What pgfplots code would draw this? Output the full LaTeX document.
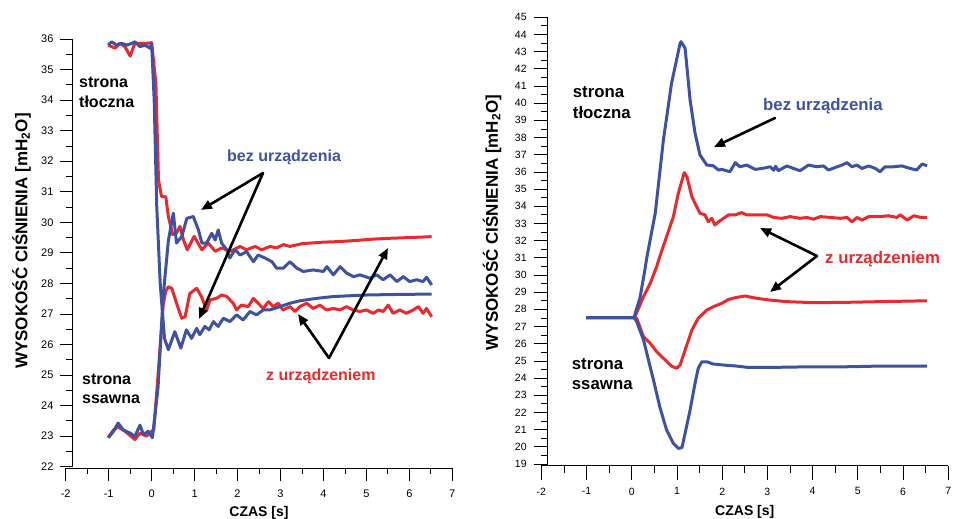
\documentclass[border=0pt]{standalone}
\usepackage{fontspec}
\setmainfont{Liberation Sans}
\usepackage{pgfplots}
\pgfplotsset{compat=1.18}
\usetikzlibrary{arrows.meta}

\definecolor{cblue}{RGB}{62,82,163}
\definecolor{cred}{RGB}{237,40,44}

\pgfplotsset{
  cisn/.style={
    scale only axis, anchor=south west,
    xmin=-2, xmax=7,
    axis x line=bottom, axis y line=left,
    axis line style={-, black, line width=0.8pt},
    xtick={-2,...,7},
    minor x tick num=1, minor y tick num=1,
    tick align=outside,
    tick style={black, line width=0.8pt},
    /pgf/number format/assume math mode=true,
    xlabel={CZAS [s]},
    ylabel={WYSOKOŚĆ CIŚNIENIA [mH\textsubscript{2}O]},
    xlabel style={anchor=base, font=\fontsize{14}{16}\selectfont\bfseries},
    ylabel style={anchor=center, font=\fontsize{17}{20}\selectfont\bfseries},
    every axis plot/.append style={line width=3pt, line join=round, mark=none},
  },
}

\begin{document}
\begin{tikzpicture}
\path[use as bounding box] (0,0) rectangle (953pt,519pt);

% left: pump stop, pressure on both sides
\begin{axis}[cisn,
  at={(65.7pt,52.3pt)}, width=386.6pt, height=427.7pt,
  ymin=22, ymax=36, ytick={22,...,36},
  axis x line shift=1.5pt, axis y line shift=-6.3pt,
  major tick length=12.5pt, minor tick length=6pt,
  tick label style={font=\fontsize{11}{13}\selectfont},
  xticklabel style={yshift=-6pt}, yticklabel style={xshift=-2.5pt},
  xlabel style={at={(axis description cs:0.5,-0.1153)}},
  ylabel style={at={(axis description cs:-0.1143,0.5277)}},
]
\addplot[cred] coordinates {
  (-1.01,35.80) (-0.85,35.70) (-0.74,35.86) (-0.62,35.75) (-0.50,35.44) (-0.39,35.86)
  (-0.27,35.86) (-0.11,35.86) (0.00,35.88) (0.10,34.55) (0.16,31.39) (0.23,30.85)
  (0.33,30.83) (0.39,30.19) (0.49,29.60) (0.58,29.65) (0.66,29.87) (0.74,29.43)
  (0.83,29.10) (0.99,29.54) (1.17,29.10) (1.32,29.32) (1.48,29.05) (1.63,29.16)
  (1.83,29.05) (2.06,29.21) (2.21,29.10) (2.41,29.21) (2.56,29.10) (2.76,29.21)
  (2.91,29.16) (3.07,29.27) (3.22,29.21) (3.50,29.30) (4.00,29.35) (4.39,29.37)
  (4.80,29.41) (5.16,29.45) (5.60,29.48) (6.00,29.50) (6.52,29.53)
};
\addplot[cred] coordinates {
  (-1.01,22.95) (-0.89,23.20) (-0.78,23.30) (-0.62,23.16) (-0.39,22.89) (-0.27,23.10)
  (-0.12,23.00) (0.00,23.16) (0.05,23.20) (0.15,25.00) (0.27,27.30) (0.33,27.75)
  (0.39,27.89) (0.47,27.84) (0.58,27.35) (0.70,26.86) (0.78,26.91) (0.89,27.67)
  (1.05,27.84) (1.16,27.57) (1.28,27.13) (1.36,27.46) (1.51,27.51) (1.63,27.62)
  (1.75,27.57) (1.90,27.35) (1.98,27.13) (2.09,27.29) (2.25,27.24) (2.37,27.51)
  (2.48,27.35) (2.60,27.18) (2.72,27.40) (2.83,27.24) (2.95,27.35) (3.06,27.13)
  (3.22,27.24) (3.34,27.08) (3.45,27.24) (3.61,27.35) (3.76,27.18) (3.92,27.29)
  (4.07,27.13) (4.23,27.18) (4.38,27.13) (4.54,27.24) (4.69,27.13) (4.85,27.08)
  (5.00,27.13) (5.16,27.02) (5.28,27.13) (5.39,27.08) (5.51,27.29) (5.62,27.02)
  (5.78,27.13) (5.93,27.02) (6.09,27.13) (6.21,27.24) (6.32,27.02) (6.40,27.18)
  (6.52,26.91)
};
\addplot[cblue] coordinates {
  (-1.01,35.80) (-0.93,35.91) (-0.82,35.80) (-0.70,35.86) (-0.58,35.80) (-0.47,35.85)
  (-0.39,35.91) (-0.27,35.75) (-0.15,35.80) (-0.04,35.70) (0.00,35.86) (0.06,34.00)
  (0.12,30.50) (0.20,28.00) (0.30,26.20) (0.39,25.83) (0.54,26.42) (0.68,25.88)
  (0.81,26.48) (0.93,26.20) (1.05,26.53) (1.12,26.32) (1.24,26.59) (1.34,26.48)
  (1.44,26.75) (1.55,26.59) (1.67,26.86) (1.82,26.75) (1.98,26.97) (2.13,26.80)
  (2.29,27.08) (2.44,26.97) (2.60,27.13) (2.75,27.13) (2.99,27.24) (3.22,27.35)
  (3.45,27.43) (3.84,27.51) (4.23,27.57) (5.00,27.62) (5.78,27.64) (6.52,27.65)
};
\addplot[cblue] coordinates {
  (-1.01,22.95) (-0.89,23.15) (-0.78,23.43) (-0.66,23.20) (-0.50,23.10) (-0.39,22.99)
  (-0.27,23.36) (-0.19,23.05) (-0.08,23.16) (0.02,22.95) (0.15,24.60) (0.27,27.60)
  (0.39,29.40) (0.505,30.30) (0.58,29.32) (0.70,29.53) (0.82,30.13) (0.97,30.19)
  (1.09,29.75) (1.17,29.32) (1.28,29.32) (1.40,29.64) (1.48,29.42) (1.55,29.75)
  (1.63,29.32) (1.75,29.10) (1.82,28.83) (1.94,29.10) (2.06,28.93) (2.21,29.04)
  (2.37,28.71) (2.48,28.93) (2.64,28.83) (2.80,28.71) (2.91,28.50) (3.07,28.50)
  (3.22,28.71) (3.38,28.50) (3.53,28.39) (3.76,28.44) (4.00,28.39) (4.08,28.55)
  (4.23,28.28) (4.39,28.55) (4.54,28.34) (4.70,28.22) (4.85,28.28) (5.08,28.17)
  (5.24,28.28) (5.39,28.12) (5.55,28.28) (5.71,28.06) (5.86,28.22) (6.01,28.06)
  (6.17,28.12) (6.32,28.06) (6.40,28.20) (6.52,27.95)
};
\end{axis}

% right: pump start
\begin{axis}[cisn,
  at={(541.3pt,55pt)}, width=407pt, height=446.7pt,
  ymin=19, ymax=45, ytick={19,...,45},
  axis x line shift=1.7pt, axis y line shift=-6.4pt,
  major tick length=14pt, minor tick length=7pt,
  tick label style={font=\fontsize{10.5}{12}\selectfont},
  xticklabel style={yshift=-4.5pt}, yticklabel style={xshift=-3.5pt},
  xlabel style={at={(axis description cs:0.5,-0.1164)}},
  ylabel style={at={(axis description cs:-0.1211,0.5406)}},
]
\addplot[cred] coordinates {
  (-1.01,27.52) (0.05,27.52) (0.07,27.57) (0.26,28.74) (0.41,29.52) (0.55,30.48)
  (0.62,31.07) (0.92,33.39) (1.03,34.76) (1.16,35.96) (1.22,35.72) (1.33,34.56)
  (1.40,34.17) (1.51,33.59) (1.62,33.50) (1.69,33.10) (1.77,33.30) (1.84,32.91)
  (1.92,33.10) (2.03,33.30) (2.14,33.50) (2.29,33.50) (2.43,33.63) (2.54,33.50)
  (2.76,33.50) (2.99,33.50) (3.14,33.35) (3.32,33.30) (3.50,33.40) (3.72,33.30)
  (3.87,33.35) (4.02,33.25) (4.17,33.40) (4.39,33.35) (4.61,33.30) (4.76,33.35)
  (4.87,33.10) (4.98,33.35) (5.09,33.20) (5.24,33.40) (5.49,33.40) (5.68,33.45)
  (5.86,33.35) (5.94,33.50) (6.09,33.20) (6.24,33.45) (6.39,33.35) (6.53,33.35)
};
\addplot[cred] coordinates {
  (-1.01,27.52) (0.05,27.52) (0.11,27.48) (0.26,26.41) (0.41,26.02) (0.55,25.54)
  (0.74,25.05) (0.88,24.70) (0.99,24.57) (1.07,24.76) (1.18,25.63) (1.33,26.80)
  (1.47,27.48) (1.66,27.96) (1.81,28.16) (1.99,28.35) (2.14,28.58) (2.29,28.68)
  (2.51,28.78) (2.77,28.64) (3.06,28.54) (3.43,28.45) (4.02,28.39) (4.76,28.41)
  (5.49,28.45) (6.53,28.50)
};
\addplot[cblue] coordinates {
  (-1.01,27.52) (0.05,27.52) (0.11,28.06) (0.18,28.64) (0.29,30.29) (0.33,30.97)
  (0.52,33.60) (0.70,37.86) (0.88,41.16) (1.07,43.49) (1.09,43.58) (1.18,43.20)
  (1.29,40.19) (1.40,38.25) (1.51,36.98) (1.66,36.40) (1.80,36.36) (1.92,36.11)
  (1.99,36.15) (2.17,36.01) (2.29,36.54) (2.39,36.30) (2.54,36.40) (2.73,36.15)
  (2.88,36.20) (3.06,36.30) (3.14,36.10) (3.18,36.33) (3.24,36.07) (3.43,36.35)
  (3.58,36.20) (3.72,36.07) (3.91,36.40) (4.09,36.30) (4.24,36.35) (4.35,36.11)
  (4.54,36.30) (4.65,36.40) (4.76,36.54) (4.87,36.30) (4.98,36.40) (5.09,36.20)
  (5.24,36.35) (5.39,36.20) (5.49,36.01) (5.60,36.30) (5.79,36.30) (5.97,36.35)
  (6.16,36.20) (6.30,36.11) (6.42,36.46) (6.53,36.36)
};
\addplot[cblue] coordinates {
  (-1.01,27.52) (0.05,27.52) (0.11,27.28) (0.26,26.22) (0.37,25.05) (0.48,23.89)
  (0.62,22.33) (0.77,20.98) (0.92,20.20) (1.03,19.91) (1.11,19.95) (1.18,20.79)
  (1.29,22.14) (1.40,23.70) (1.47,24.57) (1.55,24.95) (1.66,24.95) (1.80,24.82)
  (2.03,24.76) (2.32,24.70) (2.54,24.63) (2.91,24.63) (3.28,24.63) (4.02,24.66)
  (4.76,24.66) (5.49,24.70) (6.53,24.70)
};
\end{axis}

% annotations
\begin{scope}[every node/.style={inner sep=0pt, anchor=base west, font=\fontsize{16}{19}\selectfont\bfseries}]
\node at (79pt,431pt) {strona};
\node at (79pt,411pt) {tłoczna};
\node at (82pt,134pt) {strona};
\node at (82pt,115pt) {ssawna};
\node[cblue] at (227pt,357pt) {bez urządzenia};
\node[cred] at (266pt,138pt) {z urządzeniem};
\end{scope}
\begin{scope}[every node/.style={inner sep=0pt, anchor=base west, font=\fontsize{16.8}{20}\selectfont\bfseries}]
\node at (572.7pt,421pt) {strona};
\node at (572.7pt,400pt) {tłoczna};
\node at (571.7pt,149pt) {strona};
\node at (571.7pt,129pt) {ssawna};
\node[cblue] at (763pt,408.5pt) {bez urządzenia};
\node[cred] at (825pt,255pt) {z urządzeniem};
\end{scope}
\begin{scope}[line width=2.6pt, line cap=round, -{Triangle[length=11pt,width=9pt]}]
\draw (263pt,346pt) -- (201pt,309pt);
\draw (263pt,346pt) -- (199pt,200pt);
\draw (329pt,161pt) -- (298pt,205pt);
\draw (329pt,161pt) -- (388pt,271pt);
\draw (775pt,401pt) -- (714pt,372pt);
\draw (817pt,263pt) -- (760pt,291pt);
\draw (817pt,263pt) -- (770pt,227pt);
\end{scope}
\end{tikzpicture}
\end{document}
